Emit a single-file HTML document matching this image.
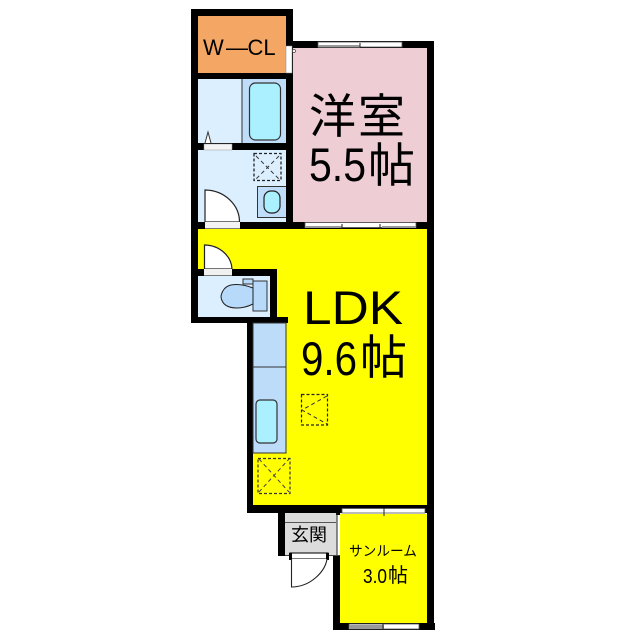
<!DOCTYPE html>
<html><head><meta charset="utf-8"><style>
html,body{margin:0;padding:0;background:#fff}
svg{display:block}
text{font-family:"Liberation Sans","Noto Sans CJK JP",sans-serif;fill:#000}
</style></head><body>
<svg width="640" height="640" viewBox="0 0 640 640" xmlns="http://www.w3.org/2000/svg">
<!-- room fills -->
<rect x="198" y="16" width="88" height="57" fill="#f4a664"/>
<rect x="198" y="79" width="88" height="143" fill="#dcefff"/>
<rect x="292" y="47" width="136" height="176" fill="#eecdd5"/>
<path d="M198 229H428V506H253V323H277V270H198Z" fill="#ffff00"/>
<rect x="340" y="514" width="88" height="110" fill="#ffff00"/>
<rect x="198" y="276" width="72" height="41" fill="#dcefff"/>
<rect x="285" y="512" width="52" height="44" fill="#dcdcdc"/>
<line x1="285" y1="522.5" x2="336" y2="522.5" stroke="#555" stroke-width="1"/>
<!-- bath -->
<rect x="242" y="79" width="44" height="64" fill="#bfdcf8"/>
<line x1="242" y1="79" x2="242" y2="143" stroke="#333" stroke-width="1"/>
<rect x="249.500" y="83" width="31" height="57" rx="6" fill="#aaf0ff" stroke="#333" stroke-width="1.200"/>
<!-- wash -->
<rect x="257.500" y="186.500" width="29" height="31" fill="#bfdcf8" stroke="#333" stroke-width="1"/>
<rect x="264" y="191" width="16" height="22" rx="7" fill="#aaf0ff" stroke="#222" stroke-width="1.200"/>
<rect x="254" y="153.500" width="27" height="27" fill="none" stroke="#222" stroke-width="1.300" stroke-dasharray="3 2"/>
<path d="M256 156L279 179M279 156L256 179" stroke="#333" stroke-width="1" stroke-dasharray="4 3"/>
<path d="M205 143L208 132L211 143" fill="#fff" stroke="#333" stroke-width="1"/>
<!-- walls -->
<g fill="#000">
<rect x="191" y="9" width="102" height="7"/>
<rect x="191" y="9" width="7" height="314"/>
<rect x="286" y="9" width="7" height="215"/>
<rect x="191" y="73" width="102" height="6"/>
<rect x="191" y="143" width="102" height="7"/>
<rect x="191" y="222" width="243" height="7"/>
<rect x="293" y="41" width="141" height="7"/>
<rect x="427" y="41" width="7" height="589"/>
<rect x="191" y="269" width="86" height="7"/>
<rect x="270" y="269" width="7" height="48"/>
<rect x="191" y="317" width="97" height="6"/>
<rect x="247" y="323" width="6" height="189"/>
<rect x="247" y="505" width="187" height="8"/>
<rect x="278" y="512" width="7" height="44"/>
<rect x="333" y="556" width="7" height="74"/>
<rect x="333" y="623" width="102" height="7"/>
<rect x="336" y="512" width="4" height="3"/>
</g>
<line x1="337" y1="513" x2="337" y2="556" stroke="#222" stroke-width="1"/>
<line x1="285" y1="555.500" x2="340" y2="555.500" stroke="#444" stroke-width="1"/>
<!-- closet door -->
<rect x="286" y="46" width="6" height="27" fill="#fff" stroke="#888" stroke-width=".5"/>
<circle cx="294" cy="51" r="1.500" fill="#fff" stroke="#444" stroke-width=".7"/>
<!-- windows -->
<g fill="#fff" stroke="#555" stroke-width=".8">
<rect x="318" y="42" width="84" height="5"/>
<rect x="305" y="222.500" width="111" height="5"/>
<rect x="342" y="508.500" width="83" height="4.500"/>
<rect x="349" y="624" width="70" height="5"/>
</g>
<rect x="318" y="45" width="42" height="2.500" fill="#999"/>
<rect x="305" y="226" width="37" height="2" fill="#999"/>
<rect x="382" y="226" width="34" height="2" fill="#999"/>
<rect x="349" y="625" width="35" height="4" fill="#999"/>
<path d="M360 43V47M342 224V229M380 224V229M384 508V516M383 624V630" stroke="#222" stroke-width="1"/>
<!-- doors -->
<rect x="204" y="144" width="28" height="6" fill="#f4f4f4" stroke="#999" stroke-width=".5"/>
<path d="M205 222V190A35 32 0 0 1 239.500 222Z" fill="#fff" stroke="#222" stroke-width="1.200"/>
<rect x="205" y="222" width="35" height="6.500" fill="#f4f4f4"/>
<path d="M204.500 269V245A28 25 0 0 1 232 269Z" fill="#fff" stroke="#222" stroke-width="1.200"/>
<rect x="204" y="269" width="28" height="6.500" fill="#f0f0f0"/>
<!-- toilet -->
<rect x="253" y="281" width="14" height="30" fill="#b7d9fa" stroke="#333" stroke-width="1"/>
<rect x="243" y="279" width="10" height="5" fill="#b7d9fa" stroke="#333" stroke-width="1"/>
<path d="M253 288C243 284 236 284 231 285C222 287 221 296 221 297C222 304 227 308 237 308C244 308 249 306 253 304Z" fill="#b7d9fa" stroke="#222" stroke-width="1"/>
<!-- kitchen -->
<rect x="253" y="323" width="33" height="130" fill="#bcdcfa" stroke="#333" stroke-width="1"/>
<line x1="253" y1="367" x2="286" y2="367" stroke="#333" stroke-width="1"/>
<rect x="256" y="400" width="21" height="43" rx="4" fill="#aaf0ff" stroke="#333" stroke-width="1.200"/>
<!-- dashed boxes -->
<rect x="301.500" y="394.500" width="26" height="30.500" fill="none" stroke="#222" stroke-width="1.200" stroke-dasharray="3 2"/>
<path d="M327 396L302 410L327 424" fill="none" stroke="#333" stroke-width="1" stroke-dasharray="4 3"/>
<rect x="258" y="458.500" width="32" height="35" fill="none" stroke="#333" stroke-width="1.200" stroke-dasharray="3 2"/>
<path d="M259 492L289 459M259 459L289 492" stroke="#444" stroke-width="1" stroke-dasharray="4 3"/>
<!-- entry door -->
<rect x="290" y="553" width="38" height="6" fill="#fff" stroke="#222" stroke-width="1.200"/>
<rect x="289" y="553" width="3" height="7" fill="#000"/>
<rect x="326" y="553" width="3" height="7" fill="#000"/>
<path d="M291.500 559V587C310 587 325 572 327 559" fill="#fff" stroke="#222" stroke-width="1.100"/>
<!-- labels -->
<text y="55" font-size="22"><tspan x="203">W</tspan><tspan x="226">—</tspan><tspan x="247.500">CL</tspan></text>
<text x="309" y="133" font-size="47" textLength="96" lengthAdjust="spacing">洋室</text>
<text x="309" y="181" font-size="47" textLength="57" lengthAdjust="spacingAndGlyphs">5.5</text>
<text x="368" y="182" font-size="47">帖</text>
<text x="303" y="324" font-size="47" textLength="100" lengthAdjust="spacingAndGlyphs">LDK</text>
<text x="301" y="375" font-size="47" textLength="56" lengthAdjust="spacingAndGlyphs">9.6</text>
<text x="360" y="374" font-size="47">帖</text>
<text x="291" y="541" font-size="18">玄関</text>
<text x="349" y="556" font-size="14" textLength="68" lengthAdjust="spacingAndGlyphs">サンルーム</text>
<text x="363" y="583" font-size="20.500" textLength="24" lengthAdjust="spacingAndGlyphs">3.0</text>
<text x="388" y="582" font-size="20">帖</text>
</svg>
</body></html>
